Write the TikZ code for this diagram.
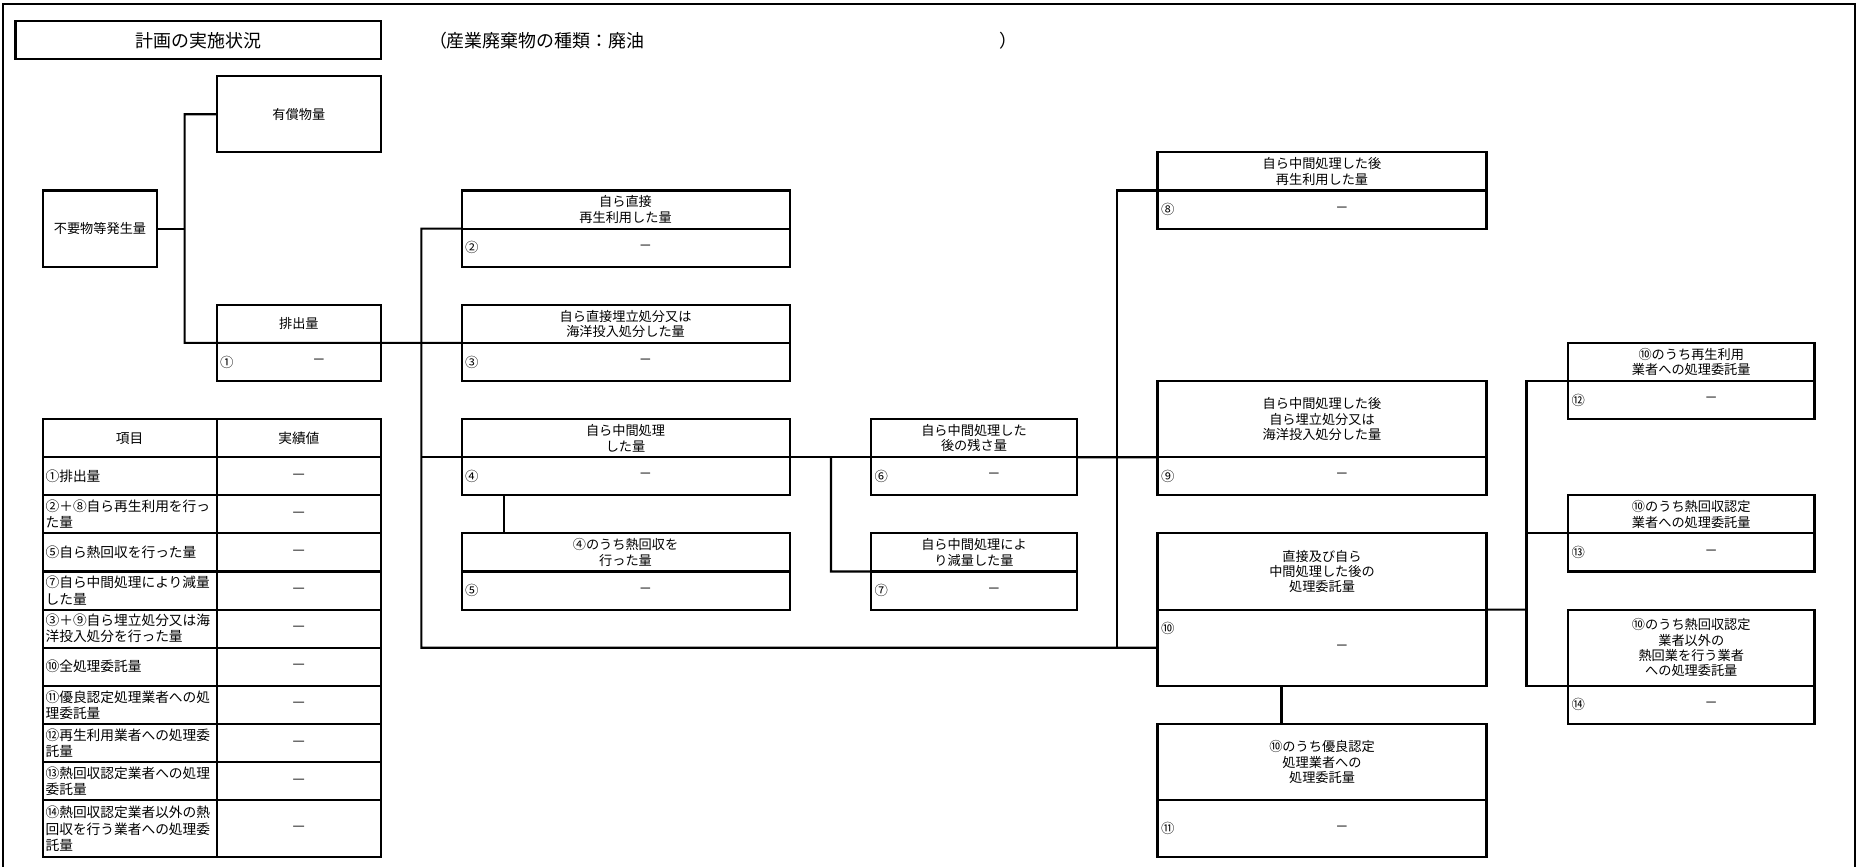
\documentclass[tikz,border=0pt]{standalone}
\usepackage{fontspec}
\setmainfont{Noto Sans CJK JP}
\usepackage{tikz}
\newcommand\hdfont{\fontsize{7.5}{8.8}\selectfont}
\newcommand\numfont{\fontsize{7.6}{8.8}\selectfont}
\newcommand\tabfont{\fontsize{7.8}{9.2}\selectfont}
\newcommand\ttlfont{\fontsize{10.2}{12}\selectfont}
\tikzstyle{box}=[draw, outer sep=0pt, inner sep=0.5pt, minimum height=7.62mm, align=center, anchor=north west]
\tikzstyle{hd}=[box, font=\hdfont]
\tikzstyle{val}=[box, label={[xshift=4mm, font=\hdfont]center:－}]
\tikzset{num/.style={label={[anchor=west, inner sep=0.5mm, font=\numfont]west:#1}}}
\tikzstyle{colS}=[minimum width=32.9mm]
\tikzstyle{colA}=[minimum width=65.6mm]
\tikzstyle{colB}=[minimum width=41.2mm]
\tikzstyle{colC}=[minimum width=65.8mm]
\tikzstyle{colD}=[minimum width=49.3mm]
\tikzstyle{cella}=[box, minimum width=34.8mm, text width=33.6mm, inner xsep=0.6mm, align=left, font=\tabfont]
\tikzstyle{cellb}=[box, minimum width=32.9mm, font=\tabfont]

\begin{document}
\begin{tikzpicture}[x=1mm, y=-1mm, line width=1.2pt]
            \useasboundingbox (0,0) rectangle (371.2,173.4);
            \draw (0.6,173.4) |- (371.0,0.8) -- (371.0,173.4);

            % title line
            \node[box, minimum width=73.1mm, minimum height=7.57mm, font=\ttlfont] (title) at (3.1, 4.26) {計画の実施状況};
            \node[anchor=west, inner sep=0pt, font=\ttlfont] (kind) at (85.6, 8.05) {（産業廃棄物の種類：廃油};
            \node[anchor=west, inner sep=0pt, font=\ttlfont] (kindend) at (199.6, 8.05) {）};

            % generated amount
            \node[hd, colS, minimum height=15.24mm] (paid) at (43.32, 15.24) {有償物量};
            \node[hd, minimum width=22.96mm, minimum height=15.24mm] (gen) at (8.52, 38.10) {不要物等発生量};
            \node[hd, colS] (h1) at (43.32, 60.96) {排出量};
            \node[val, colS, num=①] (v1) at (h1.south west) {};

            % own treatment
            \node[hd, colA] (h2) at (92.31, 38.10) {自ら直接\\再生利用した量};
            \node[val, colA, num=②] (v2) at (h2.south west) {};
            \node[hd, colA] (h3) at (92.31, 60.96) {自ら直接埋立処分又は\\海洋投入処分した量};
            \node[val, colA, num=③] (v3) at (h3.south west) {};
            \node[hd, colA] (h4) at (92.31, 83.82) {自ら中間処理\\した量};
            \node[val, colA, num=④] (v4) at (h4.south west) {};
            \node[hd, colA] (h5) at (92.31, 106.68) {④のうち熱回収を\\行った量};
            \node[val, colA, num=⑤] (v5) at (h5.south west) {};

            \node[hd, colB] (h6) at (174.2, 83.82) {自ら中間処理した\\後の残さ量};
            \node[val, colB, num=⑥] (v6) at (h6.south west) {};
            \node[hd, colB] (h7) at (174.2, 106.68) {自ら中間処理によ\\り減量した量};
            \node[val, colB, num=⑦] (v7) at (h7.south west) {};

            % after treatment
            \node[hd, colC] (h8) at (231.5, 30.48) {自ら中間処理した後\\再生利用した量};
            \node[val, colC, num=⑧] (v8) at (h8.south west) {};
            \node[hd, colC, minimum height=15.24mm] (h9) at (231.5, 76.20) {自ら中間処理した後\\自ら埋立処分又は\\海洋投入処分した量};
            \node[val, colC, num=⑨] (v9) at (h9.south west) {};
            \node[hd, colC, minimum height=15.24mm] (h10) at (231.5, 106.68) {直接及び自ら\\中間処理した後の\\処理委託量};
            \node[val, colC, minimum height=15.24mm, label={[anchor=west, yshift=-3.81mm, inner sep=0.5mm, font=\numfont]north west:⑩}] (v10) at (h10.south west) {};
            \node[hd, colC, minimum height=15.24mm] (h11) at (231.5, 144.78) {⑩のうち優良認定\\処理業者への\\処理委託量};
            \node[val, colC, minimum height=11.43mm, num=⑪] (v11) at (h11.south west) {};

            % consigned
            \node[hd, colD] (h12) at (313.6, 68.58) {⑩のうち再生利用\\業者への処理委託量};
            \node[val, colD, num=⑫] (v12) at (h12.south west) {};
            \node[hd, colD] (h13) at (313.6, 99.06) {⑩のうち熱回収認定\\業者への処理委託量};
            \node[val, colD, num=⑬] (v13) at (h13.south west) {};
            \node[hd, colD, minimum height=15.24mm] (h14) at (313.6, 121.92) {⑩のうち熱回収認定\\業者以外の\\熱回業を行う業者\\への処理委託量};
            \node[val, colD, num=⑭] (v14) at (h14.south west) {};

            % connectors
            \coordinate (j1) at (36.93, 68.58);
            \draw (paid.west) -| (j1) -- (h3.south west);
            \draw (gen.east) -- (gen.east -| j1);
            \coordinate (j2) at (84.27, 129.54);
            \draw (h2.south west) -| (j2) -- (v10.west);
            \draw (h4.south west) -- (h4.south west -| j2);
            \draw ([xshift=8.5mm]v4.south west) -- ([xshift=8.5mm]h5.north west);
            \coordinate (j3) at (166.2, 114.30);
            \draw (h4.south east) -- (h6.south west);
            \draw (j3 |- h6.south west) -- (j3) -- (h7.south west);
            \draw (h6.south east) -- (h9.south west);
            \coordinate (j4) at (223.4, 129.54);
            \draw (h8.south west) -| (j4);
            \draw ([xshift=24.8mm]v10.south west) -- ([xshift=24.8mm]h11.north west);
            \coordinate (j5) at (305.3, 121.92);
            \draw (h10.south east) -- (j5);
            \draw (h12.south west) -| (j5 |- h14.south west) -- (h14.south west);
            \draw (h13.south west) -- (h13.south west -| j5);

            % table
            \node[box, minimum width=34.8mm, font=\tabfont] (item) at (8.52, 83.82) {項目};
            \node[box, minimum width=32.9mm, font=\tabfont] (result) at (item.north east) {実績値};
            \foreach \txt [count=\i] in {①排出量, ②＋⑧自ら再生利用を行っ\\た量, ⑤自ら熱回収を行った量,
                ⑦自ら中間処理により減量\\した量, ③＋⑨自ら埋立処分又は海\\洋投入処分を行った量, ⑩全処理委託量,
                ⑪優良認定処理業者への処\\理委託量, ⑫再生利用業者への処理委\\託量, ⑬熱回収認定業者への処理\\委託量}
            {
                \node[cella] (a\i) at (8.52, {83.82+7.62*\i}) {\txt};
                \node[cellb] (b\i) at (a\i.north east) {—};
            }
            \node[cella, minimum height=11.43mm] (a11) at (8.52, 160.02) {⑭熱回収認定業者以外の熱\\回収を行う業者への処理委\\託量};
            \node[cellb, minimum height=11.43mm] (b11) at (a11.north east) {—};
        \end{tikzpicture}
\end{document}
